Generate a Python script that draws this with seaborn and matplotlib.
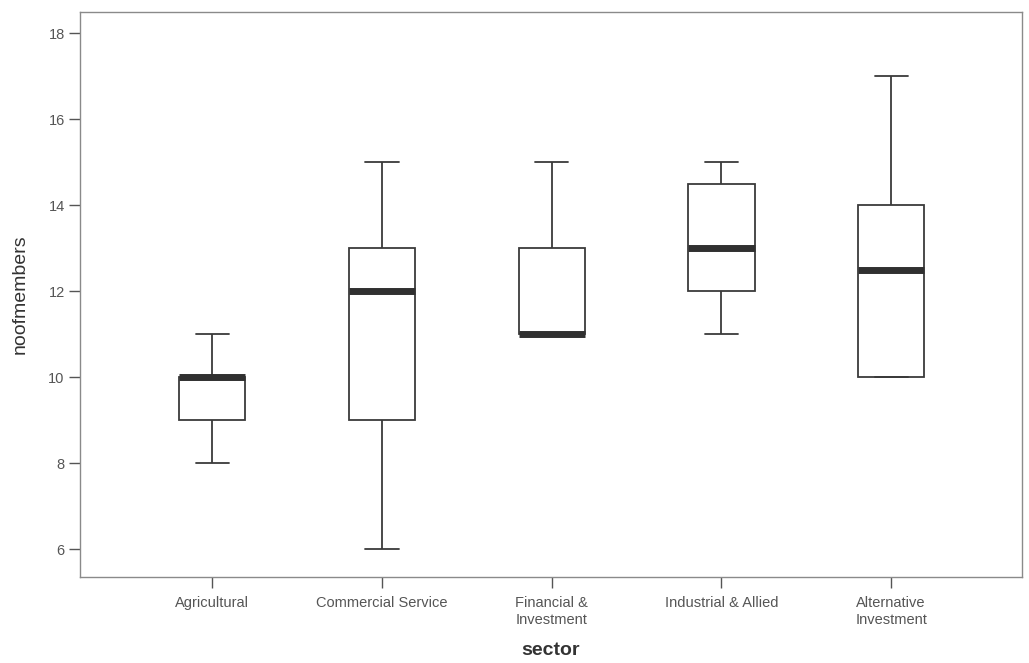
import numpy as np
import pandas as pd
import matplotlib
matplotlib.use("Agg")
import matplotlib.pyplot as plt
import seaborn as sns

# Five-number summaries per sector: min, Q1, median, Q3, max
sectors = ["Agricultural", "Commercial Service", "Financial &\nInvestment",
           "Industrial & Allied", "Alternative\nInvestment"]
agricultural = [8, 9, 10, 10, 11]
commercial_service = [6, 9, 12, 13, 15]
financial_investment = [11, 11, 11, 13, 15]
industrial_allied = [11, 12, 13, 14.5, 15]
alternative_investment = [10, 10, 12.5, 14, 17]
y_ticks = [6, 8, 10, 12, 14, 16, 18]

series = [agricultural, commercial_service, financial_investment,
          industrial_allied, alternative_investment]
df = pd.DataFrame({
    "sector": np.repeat(sectors, [len(s) for s in series]),
    "noofmembers": np.concatenate(series),
})

sns.set_theme(style="white")
plt.rcParams["font.family"] = ["Liberation Sans", "DejaVu Sans"]

fig = plt.figure(figsize=(10.29, 6.63), dpi=100)
ax = fig.add_axes([0.0777, 0.1297, 0.9153, 0.8523])

edge = "#3a3a3a"
sns.boxplot(
    data=df, x="sector", y="noofmembers", order=sectors,
    whis=(0, 100), width=0.39, fliersize=0, ax=ax,
    boxprops=dict(facecolor="white", edgecolor=edge, linewidth=1.3),
    whiskerprops=dict(color=edge, linewidth=1.3),
    capprops=dict(color=edge, linewidth=1.3),
    medianprops=dict(color="#303030", linewidth=5, solid_capstyle="butt"),
)

ax.set_xlim(-0.78, 4.77)
ax.set_ylim(5.35, 18.49)
ax.set_yticks(y_ticks)
ax.set_yticklabels([str(t) for t in y_ticks])

for sp in ax.spines.values():
    sp.set_visible(True)
    sp.set_color("#8a8a8a")
    sp.set_linewidth(1.0)

ax.tick_params(axis="both", which="major", direction="out", length=8,
               width=1.0, color="#555555", labelcolor="#555555",
               labelsize=10.5, bottom=True, left=True)
ax.tick_params(axis="x", pad=6)
ax.tick_params(axis="y", pad=3)

ax.set_xlabel("sector", fontsize=14, fontweight="bold", color="#333333",
              labelpad=11)
ax.set_ylabel("noofmembers", fontsize=14, color="#333333", labelpad=14)

fig.savefig("out.png", dpi=100, facecolor="white")
